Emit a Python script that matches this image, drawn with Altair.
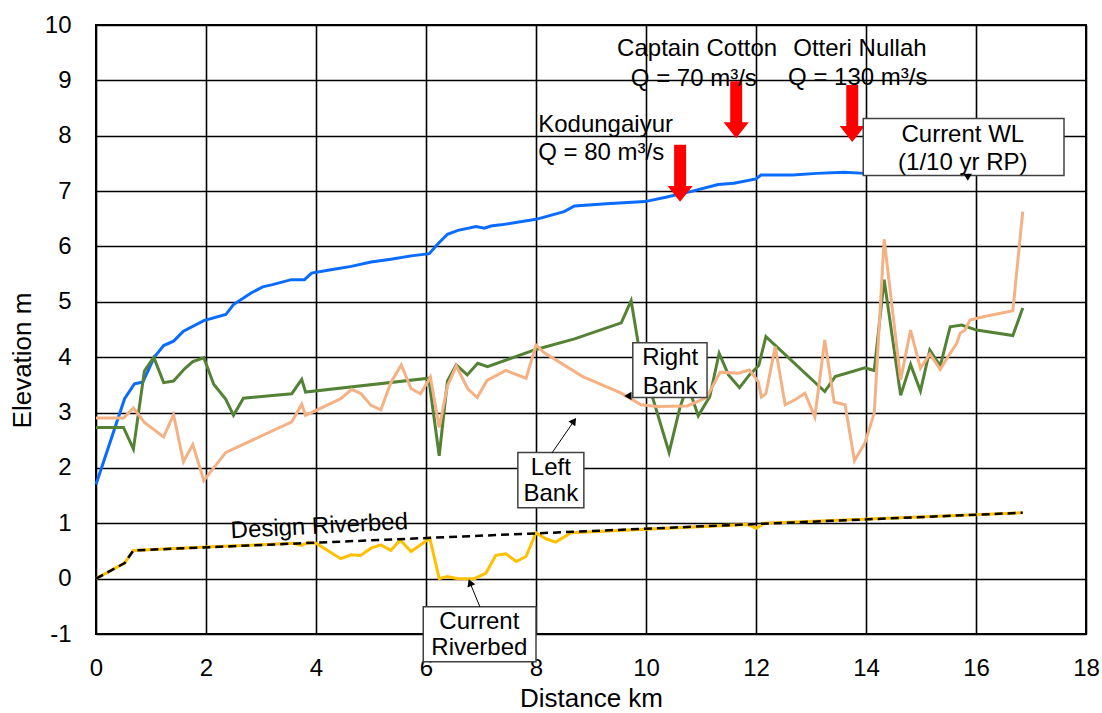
import altair as alt
import pandas as pd

FONT = "Liberation Sans"

# ---------------- data ----------------
# Current water level (1/10 yr RP)
wl_x = [0, 0.52, 0.7, 0.85, 1.06, 1.23, 1.41, 1.59, 1.96, 2.36, 2.5, 2.82, 3.03, 3.21, 3.55,
        3.79, 3.92, 4.27, 4.64, 5.0, 5.36, 5.73, 6.06, 6.21, 6.39, 6.58, 6.91, 7.06, 7.18, 7.36,
        8.0, 8.51, 8.7, 9.28, 9.98, 10.36, 10.81, 11.31, 11.6, 12.0, 12.09, 12.67, 13.1, 13.6, 13.98]
wl_y = [1.7, 3.25, 3.52, 3.55, 4.0, 4.21, 4.29, 4.47, 4.66, 4.77, 4.95, 5.16, 5.27, 5.31, 5.40,
        5.40, 5.52, 5.58, 5.64, 5.72, 5.77, 5.83, 5.87, 6.04, 6.22, 6.29, 6.36, 6.33, 6.37, 6.39,
        6.49, 6.63, 6.73, 6.77, 6.81, 6.89, 6.99, 7.12, 7.14, 7.22, 7.29, 7.29, 7.32, 7.34, 7.32]

# Left bank
lb_x = [0, 0.5, 0.68, 0.88, 1.05, 1.23, 1.41, 1.61, 1.76, 1.96, 2.14, 2.36, 2.5, 2.68, 3.21,
        3.56, 3.74, 3.81, 6.05, 6.24, 6.39, 6.55, 6.75, 6.94, 7.12, 8.0, 8.7, 9.55, 9.73, 9.9,
        10.42, 10.62, 10.76, 10.95, 11.16, 11.33, 11.5, 11.7, 11.88, 12.05, 12.18, 13.25, 13.44,
        13.98, 14.15, 14.33, 14.63, 14.81, 14.99, 15.16, 15.35, 15.53, 15.74, 16.01, 16.67, 16.85]
lb_y = [2.73, 2.73, 2.34, 3.75, 4.0, 3.54, 3.57, 3.79, 3.92, 3.99, 3.51, 3.24, 2.95, 3.26, 3.31,
        3.34, 3.6, 3.37, 3.62, 2.22, 3.57, 3.86, 3.68, 3.89, 3.83, 4.14, 4.33, 4.62, 5.02, 4.0,
        2.28, 3.1, 3.5, 2.94, 3.29, 4.07, 3.68, 3.45, 3.68, 3.85, 4.37, 3.38, 3.65,
        3.81, 3.76, 5.40, 3.31, 3.87, 3.39, 4.13, 3.84, 4.55, 4.58, 4.49, 4.39, 4.89]

# Right bank
rb_x = [0, 0.5, 0.68, 0.88, 1.23, 1.41, 1.59, 1.76, 1.96, 2.36, 3.56, 3.74, 3.81, 4.45, 4.65,
        4.82, 5.0, 5.18, 5.36, 5.55, 5.73, 5.9, 6.08, 6.24, 6.39, 6.55, 6.76, 6.93, 7.11, 7.45,
        7.82, 8.0, 8.15, 8.85, 9.53, 9.91, 10.2, 10.75, 11.1, 11.35, 11.68, 11.88, 12.04, 12.1,
        12.18, 12.35, 12.53, 12.71, 12.89, 13.07, 13.25, 13.42, 13.62, 13.79, 13.98, 14.15, 14.33,
        14.63, 14.81, 14.99, 15.16, 15.35, 15.53, 15.65, 15.71, 15.8, 15.89, 16.13, 16.67, 16.85]
rb_y = [2.9, 2.9, 3.08, 2.82, 2.56, 2.96, 2.11, 2.42, 1.77, 2.28, 2.83, 3.15, 2.95, 3.25, 3.42,
        3.34, 3.13, 3.05, 3.54, 3.86, 3.43, 3.34, 3.64, 2.73, 3.48, 3.84, 3.43, 3.27, 3.58, 3.76,
        3.62, 4.22, 4.08, 3.65, 3.36, 3.14, 3.11, 3.12, 3.27, 3.73, 3.71, 3.77, 3.56, 3.28,
        3.34, 4.19, 3.14, 3.23, 3.35, 2.92, 4.31, 3.19, 3.14, 2.13, 2.45, 2.99, 6.13,
        3.59, 4.49, 3.80, 4.06, 3.78, 4.07, 4.25, 4.43, 4.49, 4.67, 4.73, 4.84, 6.63]

# Current riverbed
cb_x = [0, 0.52, 0.68, 2.0, 3.6, 3.73, 3.85, 4.0, 4.45, 4.64, 4.81, 5.0, 5.18, 5.36, 5.53, 5.73,
        6.07, 6.24, 6.39, 6.58, 6.88, 7.09, 7.27, 7.45, 7.64, 7.82, 8.0, 8.18, 8.36, 8.64, 11.85,
        12.0, 12.15, 16.85]
cb_y = [0, 0.28, 0.51, 0.57, 0.64, 0.6, 0.65, 0.64, 0.36, 0.43, 0.42, 0.55, 0.61, 0.51, 0.70, 0.49,
        0.73, 0.0, 0.04, 0.0, 0.0, 0.1, 0.42, 0.45, 0.31, 0.40, 0.83, 0.72, 0.66, 0.83, 0.98,
        0.91, 1.0, 1.19]

# Design riverbed
db_x = [0, 0.52, 0.68, 16.85]
db_y = [0, 0.28, 0.51, 1.19]

# Inflow annotations (red arrows)
inflow_x = [10.62, 11.64, 13.75]
inflow_top = [7.84, 9.0, 8.92]
inflow_tip = [6.8, 7.94, 7.88]

# Free text labels
lab_text = ["Kodungaiyur", "Q = 80 m³/s"]
lab_x = [8.04, 8.04]
lab_y = [8.2, 7.68]
clab_text = ["Captain Cotton", "Q = 70 m³/s", "Otteri Nullah", "Q = 130 m³/s"]
clab_x = [10.93, 10.87, 13.89, 13.85]
clab_y = [9.56, 9.03, 9.56, 9.05]

# Boxed labels
box_x1 = [9.76, 7.67, 5.95, 13.95]
box_x2 = [11.11, 8.87, 8.0, 17.6]
box_y1 = [4.26, 2.28, -0.51, 8.31]
box_y2 = [3.27, 1.28, -1.5, 7.28]
btxt = ["Right", "Bank", "Left", "Bank", "Current", "Riverbed", "Current WL", "(1/10 yr RP)"]
btxt_x = [10.44, 10.44, 8.27, 8.27, 6.97, 6.97, 15.76, 15.76]
btxt_y = [3.99, 3.47, 2.0, 1.52, -0.78, -1.26, 8.02, 7.51]

# Leader lines of boxed labels
lead_x1 = [8.29, 6.98]
lead_y1 = [2.27, -0.51]
lead_x2 = [8.7, 6.79]
lead_y2 = [2.86, -0.05]
head_x = [8.69, 6.8, 9.67, 15.85]
head_y = [2.85, -0.07, 3.30, 7.25]
head_shape = ["triangle-up", "triangle-up", "triangle-left", "triangle-down"]
head_angle = [35, 338, 0, 0]

# ---------------- chart ----------------
X_SCALE = alt.Scale(domain=[0, 18], nice=False, zero=False)
Y_SCALE = alt.Scale(domain=[-1, 10], nice=False, zero=False)

x_axis = alt.Axis(values=list(range(0, 19, 2)), grid=True, gridColor="black", gridWidth=1.6,
                  ticks=False, domain=False, labelFont=FONT, labelFontSize=24, labelColor="black",
                  labelPadding=22, labelFlush=False, labelOverlap=False,
                  title="Distance km", titleFont=FONT, titleFontSize=26, titleFontWeight="normal",
                  titleColor="black", titleY=72, titleBaseline="alphabetic")
y_axis = alt.Axis(values=list(range(-1, 11)), grid=True, gridColor="black", gridWidth=1.6,
                  ticks=False, domain=False, labelFont=FONT, labelFontSize=24, labelColor="black",
                  labelPadding=25, labelFlush=False, labelOverlap=False,
                  labelExpr="datum.value < 0 ? '-' + abs(datum.value) : '' + datum.value",
                  title="Elevation m", titleFont=FONT, titleFontSize=26, titleFontWeight="normal",
                  titleColor="black", titleX=-74, titleY=335, titleAngle=270,
                  titleAlign="center", titleBaseline="middle")


def X(field="x"):
    return alt.X(f"{field}:Q", scale=X_SCALE, axis=x_axis)


def Y(field="y"):
    return alt.Y(f"{field}:Q", scale=Y_SCALE, axis=y_axis)


def line(xs, ys, color, width, dash=None):
    df = pd.DataFrame({"x": xs, "y": ys})
    if dash:
        m = alt.Chart(df).mark_line(color=color, strokeWidth=width, strokeDash=dash)
    else:
        m = alt.Chart(df).mark_line(color=color, strokeWidth=width)
    return m.encode(x=X(), y=Y())


wl = line(wl_x, wl_y, "#0a6cff", 3)
lb = line(lb_x, lb_y, "#548235", 3)
rb = line(rb_x, rb_y, "#f4b183", 3)
cb = line(cb_x, cb_y, "#ffc000", 3)
db = line(db_x, db_y, "black", 2.5, [8, 5])

arrow_df = pd.DataFrame({"x": inflow_x,
                         "y": [(a + b) / 2 for a, b in zip(inflow_top, inflow_tip)]})
ARROW = "M-0.21,-1L0.21,-1L0.21,0.44L0.44,0.44L0,1L-0.44,0.44L-0.21,0.44Z"
arrows = alt.Chart(arrow_df).mark_point(shape=ARROW, filled=True, size=3249, color="#ff0000",
                                        opacity=1, strokeWidth=0).encode(x=X(), y=Y())

lab_df = pd.DataFrame({"x": lab_x, "y": lab_y, "t": lab_text})
labs = alt.Chart(lab_df).mark_text(font=FONT, fontSize=24, align="left", baseline="middle",
                                   color="black").encode(x=X(), y=Y(), text="t:N")
clab_df = pd.DataFrame({"x": clab_x, "y": clab_y, "t": clab_text})
clabs = alt.Chart(clab_df).mark_text(font=FONT, fontSize=24, align="center", baseline="middle",
                                     color="black").encode(x=X(), y=Y(), text="t:N")

design_lab = alt.Chart(pd.DataFrame({"x": [4.06], "y": [0.94], "t": ["Design Riverbed"]})).mark_text(
    font=FONT, fontSize=24, align="center", baseline="middle", color="black", angle=357
).encode(x=X(), y=Y(), text="t:N")

box_df = pd.DataFrame({"x": box_x1, "x2": box_x2, "y": box_y1, "y2": box_y2})
boxes = alt.Chart(box_df).mark_rect(fill="white", stroke="#404040", strokeWidth=1.5).encode(
    x=X(), x2="x2:Q", y=Y(), y2="y2:Q")

bt_df = pd.DataFrame({"x": btxt_x, "y": btxt_y, "t": btxt})
btexts = alt.Chart(bt_df).mark_text(font=FONT, fontSize=24, align="center", baseline="middle",
                                    color="black").encode(x=X(), y=Y(), text="t:N")

lead_df = pd.DataFrame({"x": lead_x1, "y": lead_y1, "x2": lead_x2, "y2": lead_y2})
leads = alt.Chart(lead_df).mark_rule(color="black", strokeWidth=1).encode(
    x=X(), y=Y(), x2="x2:Q", y2="y2:Q")

head_layers = []
for hx, hy, hs, ha in zip(head_x, head_y, head_shape, head_angle):
    hdf = pd.DataFrame({"x": [hx], "y": [hy]})
    kw = dict(shape=hs, filled=True, size=70, color="black", opacity=1)
    if ha:
        kw["angle"] = ha
    head_layers.append(alt.Chart(hdf).mark_point(**kw).encode(x=X(), y=Y()))

chart = alt.layer(wl, lb, rb, cb, db, arrows, labs, clabs, design_lab, boxes, btexts, leads,
                  *head_layers).properties(
    width=990, height=609,
    padding={"left": 96, "top": 25, "right": 16, "bottom": 79},
    autosize=alt.AutoSizeParams(type="none"),
    background="white",
).configure_view(stroke="black", strokeWidth=2)

chart.save("out.html", embed_options={"renderer": "svg", "actions": False})
